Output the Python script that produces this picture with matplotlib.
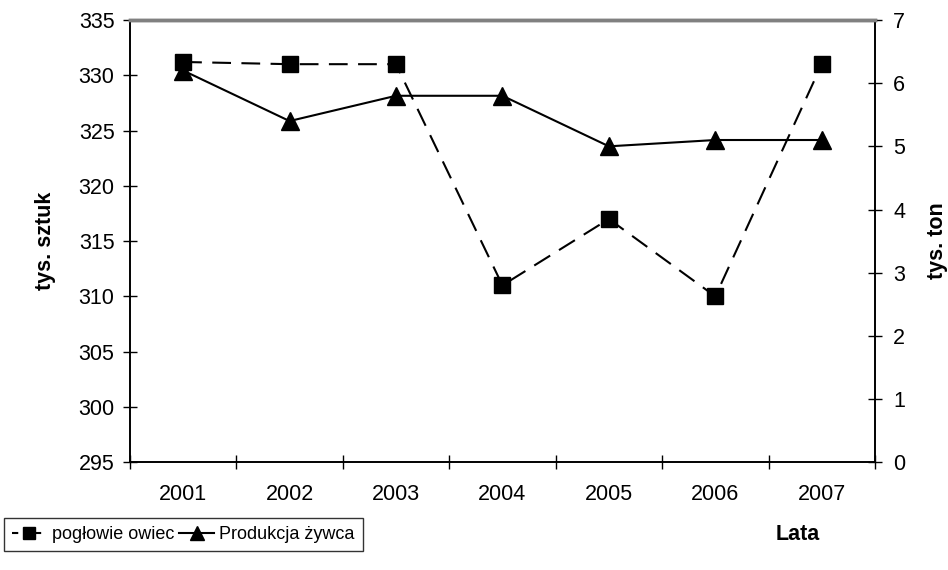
import matplotlib
matplotlib.use("Agg")
import matplotlib.pyplot as plt
from matplotlib.lines import Line2D

plt.rcParams["font.family"] = ["Liberation Sans", "DejaVu Sans"]

years = ["2001", "2002", "2003", "2004", "2005", "2006", "2007"]
poglowie = [331.2, 331.0, 331.0, 311.0, 317.0, 310.0, 331.0]
produkcja = [6.2, 5.4, 5.8, 5.8, 5.0, 5.1, 5.1]

fig = plt.figure(figsize=(9.48, 5.70), dpi=100)
ax = fig.add_axes([0.137, 0.189, 0.786, 0.776])
ax2 = ax.twinx()

x = list(range(1, len(years) + 1))
ax.plot(x, poglowie, color="black", lw=1.5, dashes=(9, 5),
        marker="s", ms=12, markerfacecolor="black", zorder=3)
ax2.plot(x, produkcja, color="black", lw=1.5,
         marker="^", ms=13, markerfacecolor="black", zorder=3)

ax.set_xlim(0.5, 7.5)
ax.set_ylim(295, 335)
ax.set_yticks(range(295, 336, 5))
ax2.set_ylim(0, 7)
ax2.set_yticks(range(0, 8))

# category ticks sit between the years, labels centred on each year
ax.set_xticks([i + 0.5 for i in range(0, 8)], minor=False)
ax.set_xticklabels([])
ax.set_xticks(x, minor=True)
ax.set_xticklabels(years, minor=True)
ax.tick_params(axis="x", which="major", direction="inout", length=10, width=1)
ax.tick_params(axis="x", which="minor", length=0, pad=16, labelsize=15.5)
ax.tick_params(axis="y", direction="inout", length=10, width=1, labelsize=15.5, pad=6)
ax2.tick_params(axis="y", direction="inout", length=10, width=1, labelsize=15.5, pad=8)

for a in (ax, ax2):
    a.spines["top"].set_color("#808080")
    a.spines["top"].set_linewidth(2.5)
    for s in ("left", "right", "bottom"):
        a.spines[s].set_color("black")
        a.spines[s].set_linewidth(1.2)

ax.set_ylabel("tys. sztuk", fontsize=15.5, fontweight="bold", labelpad=16)
ax2.set_ylabel("tys. ton", fontsize=15.5, fontweight="bold", labelpad=16)

fig.text(0.841, 0.062, "Lata", fontsize=15.5, fontweight="bold", ha="center", va="center")

handles = [
    Line2D([], [], color="black", lw=1.5, dashes=(3, 2.5), marker="s", ms=9),
    Line2D([], [], color="black", lw=1.5, marker="^", ms=10),
]
leg = fig.legend(handles, ["pogłowie owiec", "Produkcja żywca"], loc="center left",
                 bbox_to_anchor=(0.004, 0.062), ncol=2, fontsize=13, frameon=True,
                 fancybox=False, edgecolor="black", handlelength=1.9,
                 handletextpad=0.3, columnspacing=0.3, borderpad=0.45,
                 borderaxespad=0)
leg.get_frame().set_linewidth(1.0)

fig.savefig("out.png", dpi=100)
